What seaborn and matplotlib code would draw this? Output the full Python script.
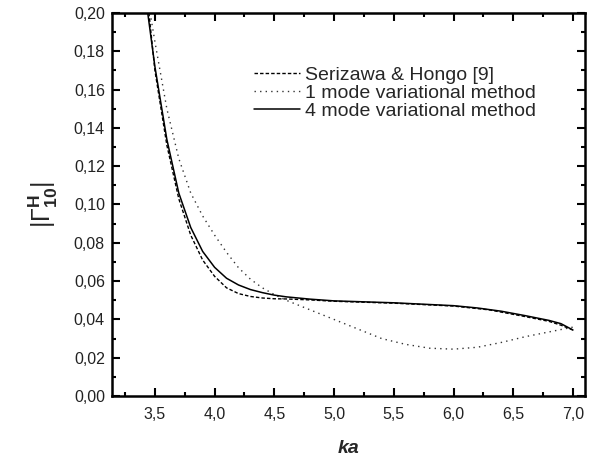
import matplotlib
matplotlib.use("Agg")
import matplotlib.pyplot as plt
import seaborn as sns
import pandas as pd
from matplotlib.ticker import FuncFormatter, MultipleLocator

sns.set_style("ticks")
plt.rcParams['font.family'] = ['Liberation Sans', 'DejaVu Sans']
plt.rcParams['mathtext.fontset'] = 'custom'
plt.rcParams['mathtext.rm'] = 'Liberation Sans'
plt.rcParams['mathtext.bf'] = 'Liberation Sans:bold'

# Serizawa & Hongo [9]
ka_ser = [3.45, 3.5, 3.6, 3.7, 3.8, 3.9, 4.0, 4.1, 4.2, 4.3, 4.4, 4.5, 4.6, 4.8,
          5.0, 5.5, 6.0, 6.3, 6.6, 6.8, 6.9, 7.0]
g_ser = [0.200, 0.170, 0.131, 0.103, 0.084, 0.071, 0.0625, 0.0565, 0.0535, 0.052,
         0.0512, 0.0508, 0.0507, 0.0502, 0.0495, 0.0485, 0.047, 0.045, 0.0415,
         0.039, 0.037, 0.0345]

# 1 mode variational method
ka_1m = [3.46, 3.5, 3.6, 3.7, 3.8, 3.9, 4.0, 4.1, 4.2, 4.3, 4.4, 4.5, 4.6, 4.7,
         4.8, 5.0, 5.2, 5.4, 5.6, 5.8, 6.0, 6.2, 6.4, 6.6, 6.8, 7.0]
g_1m = [0.200, 0.185, 0.150, 0.124, 0.106, 0.094, 0.084, 0.075, 0.067, 0.061,
        0.0565, 0.053, 0.050, 0.0475, 0.045, 0.040, 0.035, 0.030, 0.027, 0.025,
        0.0245, 0.0255, 0.028, 0.031, 0.0335, 0.036]

# 4 mode variational method
ka_4m = [3.44, 3.5, 3.6, 3.7, 3.8, 3.9, 4.0, 4.1, 4.2, 4.3, 4.4, 4.5, 4.6, 4.8,
         5.0, 5.5, 6.0, 6.2, 6.4, 6.6, 6.8, 6.9, 7.0]
g_4m = [0.200, 0.172, 0.134, 0.106, 0.088, 0.0755, 0.0672, 0.0615, 0.058, 0.0556,
        0.054, 0.0527, 0.0518, 0.0506, 0.0497, 0.0487, 0.0472, 0.046, 0.0443,
        0.042, 0.0395, 0.0378, 0.0345]

fig = plt.figure(figsize=(5.92, 4.59), dpi=100)
ax = fig.add_axes([0.189, 0.137, 0.799, 0.835])

df_ser = pd.DataFrame({'ka': ka_ser, 'g': g_ser})
df_1m = pd.DataFrame({'ka': ka_1m, 'g': g_1m})
df_4m = pd.DataFrame({'ka': ka_4m, 'g': g_4m})

sns.lineplot(data=df_ser, x='ka', y='g', ax=ax, color='black', lw=1.0,
             label='Serizawa & Hongo [9]', sort=False)
ax.lines[-1].set_linestyle((0, (2.5, 1.5)))
sns.lineplot(data=df_1m, x='ka', y='g', ax=ax, color='#333333', lw=1.0,
             label='1 mode variational method', sort=False)
ax.lines[-1].set_linestyle((0, (1, 3)))
sns.lineplot(data=df_4m, x='ka', y='g', ax=ax, color='black', lw=1.1,
             label='4 mode variational method', sort=False)

ax.set_xlim(3.14, 7.1)
ax.set_ylim(0, 0.20)
ax.xaxis.set_major_locator(MultipleLocator(0.5))
ax.xaxis.set_minor_locator(MultipleLocator(0.25))
ax.yaxis.set_major_locator(MultipleLocator(0.02))
ax.yaxis.set_minor_locator(MultipleLocator(0.01))
ax.xaxis.set_major_formatter(FuncFormatter(lambda v, p: f'{v:.1f}'.replace('.', ',')))
ax.yaxis.set_major_formatter(FuncFormatter(lambda v, p: f'{v:.2f}'.replace('.', ',')))

for s in ax.spines.values():
    s.set_linewidth(1.8)
    s.set_color('black')
ax.tick_params(which='both', direction='in', top=True, right=True, width=1.5,
               labelsize=11.5, colors='black')
ax.tick_params(which='major', length=6, pad=5)
ax.tick_params(which='minor', length=3)
ax.tick_params(axis='x', labelcolor='#222222', pad=8)
ax.tick_params(axis='y', labelcolor='#222222')

ax.set_xlabel('ka', fontsize=14, fontweight='bold', style='italic', labelpad=13)
ax.set_ylabel(r'$|\Gamma_{\mathbf{10}}^{\mathbf{H}}|$', fontsize=18, labelpad=10)

leg = ax.legend(loc='upper left', bbox_to_anchor=(0.283, 0.88), frameon=False,
                fontsize=14, handlelength=2.4, handletextpad=0.25,
                labelspacing=0.02, borderaxespad=0)

fig.savefig('out.png', dpi=100)
